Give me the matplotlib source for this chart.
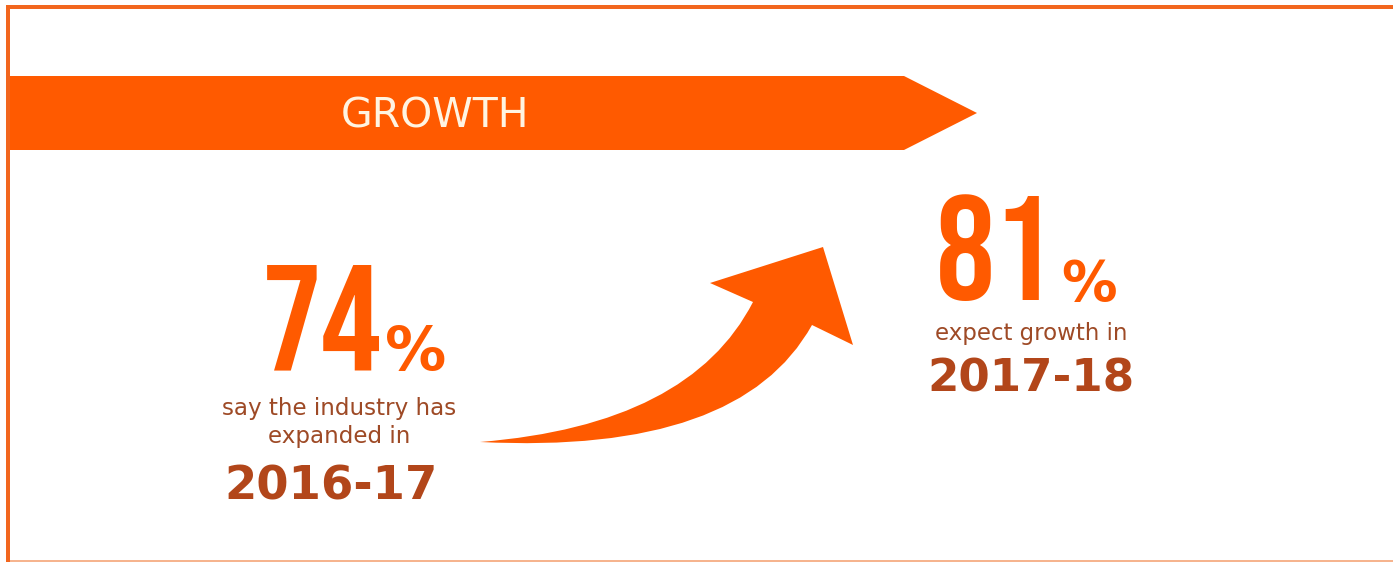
import matplotlib.pyplot as plt
from matplotlib.patches import Polygon, PathPatch, Rectangle
from matplotlib.path import Path

# survey figures
title = "GROWTH"
values = [74, 81]
captions = ["say the industry has\nexpanded in", "expect growth in"]
periods = ["2016-17", "2017-18"]

ORANGE = "#FF5A00"
FRAME = "#F2661E"
BROWN = "#9E4A26"
RUST = "#B2461A"

fig = plt.figure(figsize=(13.93, 5.62), dpi=100)
ax = fig.add_axes([0, 0, 1, 1])
ax.set_xlim(0, 1393)
ax.set_ylim(562, 0)
ax.axis("off")

# frame: top and left rules, faint bottom rule
ax.add_patch(Rectangle((6, 5), 1387, 4, color=FRAME, lw=0))
ax.add_patch(Rectangle((6, 5), 4, 557, color=FRAME, lw=0))
ax.add_patch(Rectangle((10, 559.5), 1383, 2.5, color="#F6B48E", lw=0))

# banner arrow
ax.add_patch(Polygon([(10, 76), (904, 76), (977, 113), (904, 150), (10, 150)],
                     closed=True, color=ORANGE, lw=0))
ax.text(435, 127, title, color="#FFF4E2", fontsize=29.5,
        family="DejaVu Sans", ha="center", va="baseline")

# curved arrow between the two figures
verts = [(480, 442), (690, 425), (753, 302),
         (710, 283), (823, 247), (853, 345), (812, 325),
         (740, 455), (480, 442), (480, 442)]
codes = [Path.MOVETO, Path.CURVE3, Path.CURVE3,
         Path.LINETO, Path.LINETO, Path.LINETO, Path.LINETO,
         Path.CURVE3, Path.CURVE3, Path.CLOSEPOLY]
ax.add_patch(PathPatch(Path(verts, codes), color=ORANGE, lw=0))

big_font = ["Bebas Neue", "Fira Sans Extra Condensed", "DejaVu Sans"]

# left block
ax.text(382, 370, f"{values[0]}", color=ORANGE, fontsize=108, family=big_font,
        ha="right", va="baseline")
ax.text(385, 370, "%", color=ORANGE, fontsize=44, family="DejaVu Sans",
        fontweight="bold", ha="left", va="baseline")
ax.text(339, 443, captions[0], color=BROWN, fontsize=16.6, family="DejaVu Sans",
        ha="center", va="baseline", linespacing=1.25, multialignment="center")
ax.text(331, 499, periods[0], color=RUST, fontsize=33.5, family="DejaVu Sans",
        fontweight="bold", ha="center", va="baseline")

# right block
ax.text(1054, 300, f"{values[1]}", color=ORANGE, fontsize=106, family=big_font,
        ha="right", va="baseline")
ax.text(1061, 300, "%", color=ORANGE, fontsize=40, family="DejaVu Sans",
        fontweight="bold", ha="left", va="baseline")
ax.text(1031, 340, captions[1], color=BROWN, fontsize=16.5, family="DejaVu Sans",
        ha="center", va="baseline")
ax.text(1031, 392, periods[1], color=RUST, fontsize=32.5, family="DejaVu Sans",
        fontweight="bold", ha="center", va="baseline")

fig.savefig("out.png", dpi=100)
